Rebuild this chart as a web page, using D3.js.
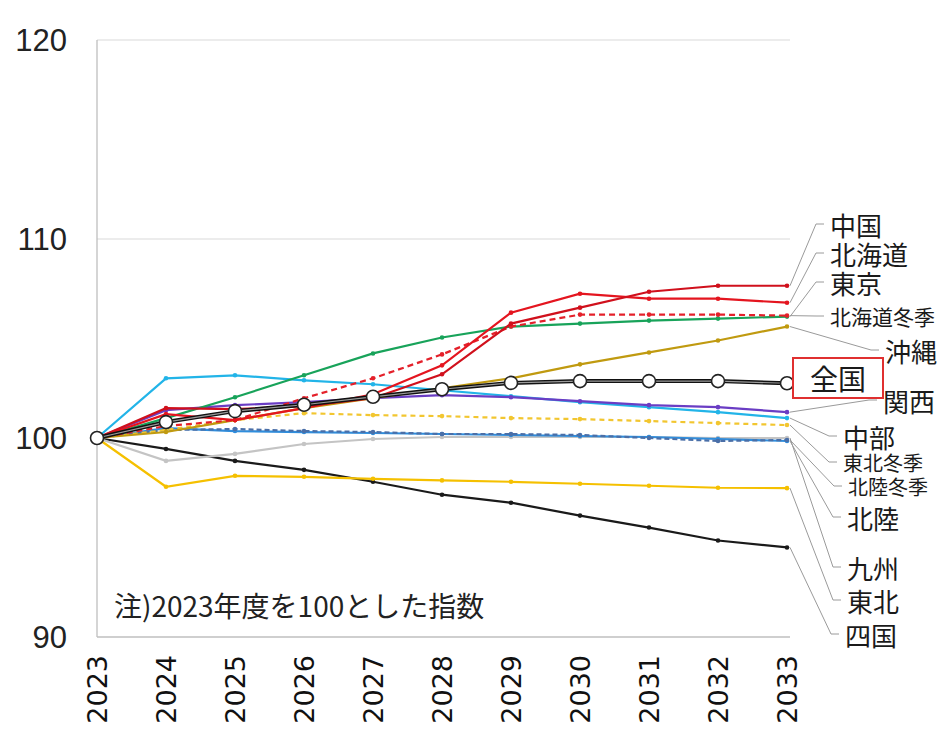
<!DOCTYPE html>
<html><head><meta charset="utf-8">
<script src="https://cdn.jsdelivr.net/npm/d3@7"></script>
<style>body{margin:0;background:#fff}svg{display:block}</style>
</head><body>
<svg id="c" width="944" height="731"></svg>
<script>
// ---- data ----
const years = ["2023","2024","2025","2026","2027","2028","2029","2030","2031","2032","2033"];
const yTicks = [90, 100, 110, 120];
const names = ["四国","東北","九州","北陸","北陸冬季","東北冬季","中部","関西","沖縄","東京","北海道冬季","北海道","中国","全国"];
const shikoku   = [100, 99.45, 98.85, 98.4, 97.8, 97.15, 96.75, 96.1, 95.5, 94.85, 94.5];
const tohoku    = [100, 97.55, 98.1, 98.05, 97.95, 97.87, 97.8, 97.7, 97.6, 97.5, 97.48];
const kyushu    = [100, 98.85, 99.2, 99.7, 99.95, 100.05, 100.05, 100.05, 100.05, 100.0, 100.0];
const hokuriku  = [100, 100.5, 100.35, 100.3, 100.25, 100.2, 100.15, 100.1, 100.05, 99.95, 99.85];
const hokurikuW = [100, 100.4, 100.45, 100.35, 100.3, 100.2, 100.2, 100.15, 100.0, 99.85, 99.9];
const tohokuW   = [100, 100.4, 100.9, 101.25, 101.15, 101.1, 101.0, 100.95, 100.85, 100.75, 100.65];
const chubu     = [100, 103.0, 103.15, 102.9, 102.7, 102.4, 102.1, 101.8, 101.55, 101.3, 101.0];
const kansai    = [100, 101.4, 101.65, 101.8, 102.0, 102.15, 102.05, 101.85, 101.65, 101.55, 101.3];
const okinawa   = [100, 100.3, 100.9, 101.5, 102.0, 102.5, 103.0, 103.7, 104.3, 104.9, 105.6];
const tokyo     = [100, 101.0, 102.05, 103.15, 104.25, 105.05, 105.6, 105.75, 105.9, 106.0, 106.1];
const hokkaidoW = [100, 100.6, 100.9, 102.0, 103.0, 104.2, 105.6, 106.2, 106.2, 106.2, 106.15];
const hokkaido  = [100, 101.2, 100.9, 101.5, 102.2, 103.65, 106.3, 107.25, 107.0, 107.0, 106.8];
const chugoku   = [100, 101.5, 101.45, 101.6, 102.0, 103.2, 105.75, 106.55, 107.35, 107.65, 107.65];
const zenkoku   = [100, 100.8, 101.35, 101.67, 102.07, 102.45, 102.77, 102.86, 102.86, 102.86, 102.75];
const noteText = "注)2023年度を100とした指数";

const valuesByName = {
  "四国": shikoku, "東北": tohoku, "九州": kyushu, "北陸": hokuriku, "北陸冬季": hokurikuW,
  "東北冬季": tohokuW, "中部": chubu, "関西": kansai, "沖縄": okinawa, "東京": tokyo,
  "北海道冬季": hokkaidoW, "北海道": hokkaido, "中国": chugoku, "全国": zenkoku
};

// ---- styles ----
const style = {
  "四国":     {c:"#1a1a1a"},
  "東北":     {c:"#f5c000"},
  "九州":     {c:"#c4c4c4"},
  "北陸":     {c:"#2f8ddc"},
  "北陸冬季": {c:"#4a6fa8", dash:"5,3"},
  "東北冬季": {c:"#f2c630", dash:"5,4"},
  "中部":     {c:"#22b4e8"},
  "関西":     {c:"#6a3dc4"},
  "沖縄":     {c:"#c09a10"},
  "東京":     {c:"#18a35a"},
  "北海道冬季": {c:"#e4202a", dash:"6,4"},
  "北海道":   {c:"#e4151f"},
  "中国":     {c:"#d0101c"},
  "全国":     {c:"#000"}
};
// label layout: [x, y, size]
const labelPos = {
  "中国": [830, 224, 26], "北海道": [830, 253, 26], "東京": [830, 282, 26],
  "北海道冬季": [830, 316, 21], "沖縄": [885, 350, 26], "関西": [883, 400, 26],
  "中部": [843, 436, 26], "東北冬季": [843, 462, 20], "北陸冬季": [848, 486, 20],
  "北陸": [847, 517, 26], "九州": [847, 567, 26], "東北": [847, 600, 26], "四国": [845, 634, 26]
};

const svg = d3.select("#c");
const x = d3.scalePoint().domain(years).range([97, 787]);
const y = d3.scaleLinear().domain([90, 120]).range([637, 40]);

// gridlines
svg.append("g").selectAll("line").data([110, 120]).join("line")
  .attr("x1", 97).attr("x2", 790).attr("y1", d => y(d)).attr("y2", d => y(d))
  .attr("stroke", "#d9d9d9").attr("stroke-width", 1);

// axes lines
svg.append("line").attr("x1", 97).attr("x2", 97).attr("y1", y(120)).attr("y2", y(90))
  .attr("stroke", "#bfbfbf").attr("stroke-width", 1.3);
svg.append("line").attr("x1", 97).attr("x2", 790).attr("y1", y(90)).attr("y2", y(90))
  .attr("stroke", "#bfbfbf").attr("stroke-width", 1.3);

// y tick labels
svg.append("g").selectAll("text").data(yTicks).join("text")
  .attr("x", 67).attr("y", d => y(d)).attr("dy", "0.36em")
  .attr("text-anchor", "end")
  .attr("font-family", "Liberation Sans, Arial, sans-serif").attr("font-size", 31)
  .attr("fill", "#222").text(d => d);

// x tick labels (rotated)
svg.append("g").selectAll("text").data(years).join("text")
  .attr("transform", d => `translate(${x(d)},655) rotate(-90)`)
  .attr("dy", "0.36em").attr("text-anchor", "end")
  .attr("font-family", "DejaVu Sans, sans-serif").attr("font-size", 27)
  .attr("fill", "#111").text(d => d);

// note
svg.append("text").attr("x", 114).attr("y", 607).attr("dy", "0.35em")
  .attr("font-family", "Noto Sans CJK JP, sans-serif").attr("font-size", 28)
  .attr("fill", "#222").text(noteText);

const line = d3.line().x((d, i) => x(years[i])).y(d => y(d));

// leader lines
const leader = svg.append("g");
Object.keys(labelPos).forEach(n => {
  const v = valuesByName[n];
  const [lx, ly] = labelPos[n];
  const ex = x(years[years.length - 1]), ey = y(v[v.length - 1]);
  leader.append("polyline")
    .attr("points", `${ex + 3},${ey} ${lx - 14},${ly} ${lx - 6},${ly}`)
    .attr("fill", "none").attr("stroke", "#9a9a9a").attr("stroke-width", 1);
});

// series lines
names.filter(n => n !== "全国").forEach(n => {
  const s = style[n];
  const v = valuesByName[n];
  svg.append("path").datum(v).attr("d", line)
    .attr("fill", "none").attr("stroke", s.c).attr("stroke-width", 2.2)
    .attr("stroke-dasharray", s.dash || null);
  svg.append("g").selectAll("circle").data(v).join("circle")
    .attr("cx", (d, i) => x(years[i])).attr("cy", d => y(d)).attr("r", 2.3)
    .attr("fill", s.c);
});

// 全国
svg.append("path").datum(zenkoku).attr("d", line)
  .attr("fill", "none").attr("stroke", "#111").attr("stroke-width", 4);
svg.append("path").datum(zenkoku).attr("d", line)
  .attr("fill", "none").attr("stroke", "#9a9a9a").attr("stroke-width", 1.2);
svg.append("g").selectAll("circle").data(zenkoku).join("circle")
  .attr("cx", (d, i) => x(years[i])).attr("cy", d => y(d)).attr("r", 6.5)
  .attr("fill", "#fff").attr("stroke", "#222").attr("stroke-width", 1.6);

// labels
Object.keys(labelPos).forEach(n => {
  const [lx, ly, fs] = labelPos[n];
  svg.append("text").attr("x", lx).attr("y", ly).attr("dominant-baseline", "central")
    .attr("font-family", "Noto Sans CJK JP, sans-serif").attr("font-size", fs)
    .attr("fill", "#1a1a1a").text(n);
});

// 全国 boxed label
svg.append("rect").attr("x", 793).attr("y", 358).attr("width", 90).attr("height", 40)
  .attr("fill", "#fff").attr("stroke", "#e03030").attr("stroke-width", 2);
svg.append("text").attr("x", 838).attr("y", 378).attr("text-anchor", "middle")
  .attr("dominant-baseline", "central")
  .attr("font-family", "Noto Sans CJK JP, sans-serif").attr("font-size", 28)
  .attr("fill", "#1a1a1a").text("全国");
</script>
</body></html>
